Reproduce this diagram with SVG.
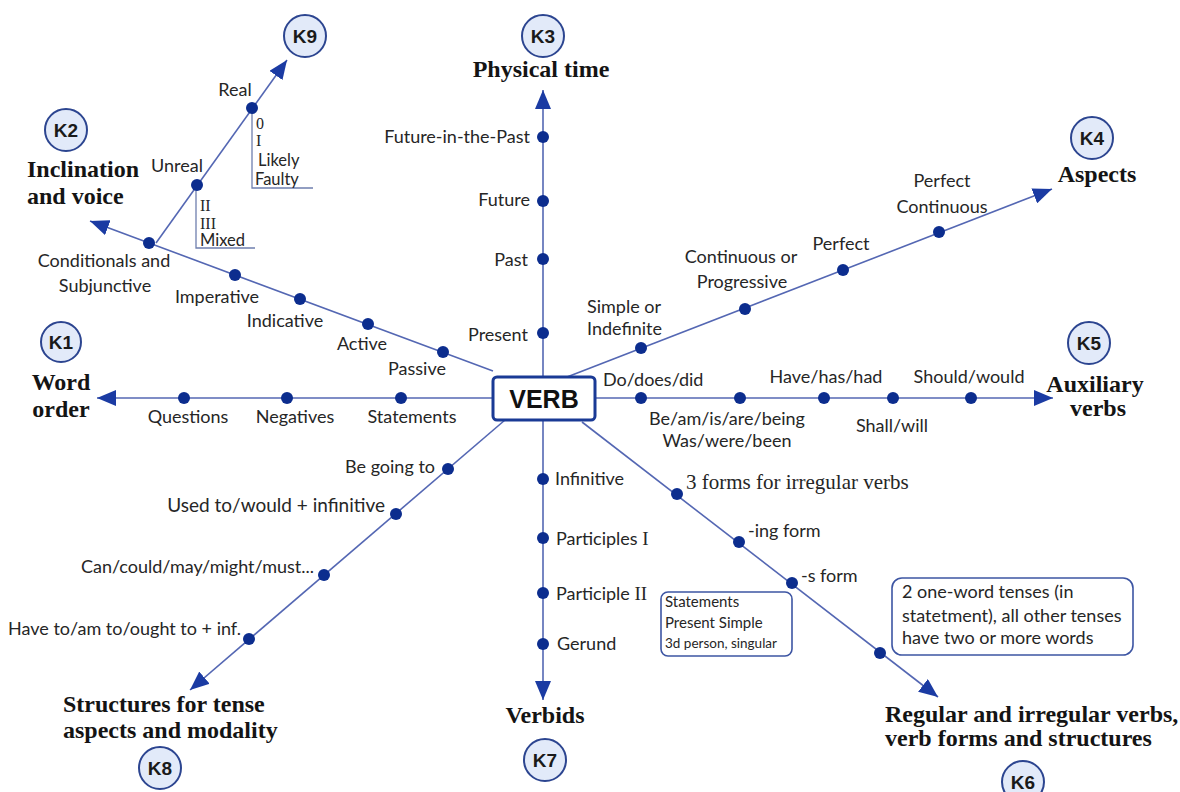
<svg xmlns="http://www.w3.org/2000/svg" width="1180" height="792" viewBox="0 0 1180 792">
<style>
.ln{stroke:#5467b3;stroke-width:1.6;fill:none}
.br{stroke:#6f7fae;stroke-width:1.3;fill:none}
.dot{fill:#0c2d8e}
.lbl{font-family:Lato,"Liberation Sans",sans-serif;font-size:18px;fill:#262626}
.ser{font-family:"Liberation Serif",serif;font-size:19px;fill:#262626}
.brs{font-family:"Liberation Serif",serif;font-size:16px;fill:#262626}
.brt{font-family:Lato,"Liberation Sans",sans-serif;font-size:16.5px;fill:#262626}
.n1{font-family:Lato,"Liberation Sans",sans-serif;font-size:15px;fill:#262626}
.n2{font-family:Lato,"Liberation Sans",sans-serif;font-size:13.5px;fill:#262626}
.ttl{font-family:"Liberation Serif",serif;font-weight:bold;font-size:24px;fill:#141414}
.kc{fill:#e2eaf9;stroke:#2c4590;stroke-width:2}
.kt{font-family:"Liberation Sans",sans-serif;font-weight:bold;font-size:19px;fill:#1a1a1a;text-anchor:middle}
.mid{text-anchor:middle}
.end{text-anchor:end}
.box{fill:#fff;stroke:#3d55a3;stroke-width:1.6}
</style>
<defs>
<marker id="ah" viewBox="0 0 10 10" refX="10" refY="5" markerWidth="19" markerHeight="16" markerUnits="userSpaceOnUse" orient="auto" preserveAspectRatio="none">
<path d="M0,0 L10,5 L0,10 z" fill="#1b3ba3"/>
</marker>
</defs>
<rect width="1180" height="792" fill="#fff"/>

<g id="connectors">
<line class="ln" x1="493" y1="398" x2="97" y2="398" marker-end="url(#ah)"/>
<line class="ln" x1="543" y1="377" x2="543" y2="90" marker-end="url(#ah)"/>
<line class="ln" x1="567" y1="377" x2="1052" y2="189" marker-end="url(#ah)"/>
<line class="ln" x1="595" y1="398" x2="1053" y2="398" marker-end="url(#ah)"/>
<line class="ln" x1="582" y1="422" x2="938" y2="697" marker-end="url(#ah)"/>
<line class="ln" x1="543" y1="420" x2="543" y2="700" marker-end="url(#ah)"/>
<line class="ln" x1="505" y1="420" x2="190" y2="690" marker-end="url(#ah)"/>
<line class="ln" x1="493" y1="371" x2="90" y2="221" marker-end="url(#ah)"/>
<line class="ln" x1="156" y1="243" x2="287" y2="60" marker-end="url(#ah)"/>
<polyline class="br" points="252,112 252,188 313,188"/>
<polyline class="br" points="196,190 196,248 255,248"/>
</g>

<g id="verb">
<rect x="493" y="377" width="102" height="43" rx="4" fill="#fff" stroke="#1a3a95" stroke-width="3"/>
<text x="544" y="408" font-family="'Liberation Sans',sans-serif" font-weight="bold" font-size="25" fill="#111" text-anchor="middle">VERB</text>
</g>

<g id="k1">
<circle class="kc" cx="61" cy="342" r="20"/><text class="kt" x="61" y="349">K1</text>
<text class="ttl mid" x="61" y="390">Word</text><text class="ttl mid" x="61" y="417">order</text>
</g>
<g id="k2">
<circle class="kc" cx="66" cy="130" r="21"/><text class="kt" x="66" y="137">K2</text>
<text class="ttl" x="27" y="177">Inclination</text><text class="ttl" x="27" y="204">and voice</text>
</g>
<g id="k3">
<circle class="kc" cx="543" cy="36" r="21"/><text class="kt" x="543" y="43">K3</text>
<text class="ttl mid" x="541" y="77">Physical time</text>
</g>
<g id="k4">
<circle class="kc" cx="1092" cy="138" r="21"/><text class="kt" x="1092" y="145">K4</text>
<text class="ttl mid" x="1097" y="182">Aspects</text>
</g>
<g id="k5">
<circle class="kc" cx="1089" cy="343" r="21"/><text class="kt" x="1089" y="350">K5</text>
<text class="ttl mid" x="1095" y="392">Auxiliary</text><text class="ttl mid" x="1098" y="416">verbs</text>
</g>
<g id="k6">
<circle class="kc" cx="1023" cy="782" r="21"/><text class="kt" x="1023" y="789">K6</text>
<text class="ttl" x="885" y="722">Regular and irregular verbs,</text>
<text class="ttl" x="885" y="746">verb forms and structures</text>
</g>
<g id="k7">
<circle class="kc" cx="545" cy="760" r="21"/><text class="kt" x="545" y="767">K7</text>
<text class="ttl mid" x="545" y="723">Verbids</text>
</g>
<g id="k8">
<circle class="kc" cx="160" cy="768" r="21"/><text class="kt" x="160" y="775">K8</text>
<text class="ttl" x="63" y="712">Structures for tense</text>
<text class="ttl" x="63" y="738">aspects and modality</text>
</g>
<g id="k9">
<circle class="kc" cx="305" cy="36" r="21"/><text class="kt" x="305" y="43">K9</text>
</g>

<g id="word-order-items">
<circle class="dot" cx="184" cy="398" r="6"/><text class="lbl mid" x="188" y="423">Questions</text>
<circle class="dot" cx="287" cy="398" r="6"/><text class="lbl mid" x="295" y="423">Negatives</text>
<circle class="dot" cx="401" cy="398" r="6"/><text class="lbl mid" x="412" y="423">Statements</text>
</g>

<g id="inclination-items">
<circle class="dot" cx="149" cy="243" r="6"/><text class="lbl mid" x="104" y="267">Conditionals and</text><text class="lbl mid" x="105" y="292">Subjunctive</text>
<circle class="dot" cx="235" cy="275" r="6"/><text class="lbl mid" x="217" y="303">Imperative</text>
<circle class="dot" cx="300" cy="299" r="6"/><text class="lbl mid" x="285" y="327">Indicative</text>
<circle class="dot" cx="368" cy="324" r="6"/><text class="lbl mid" x="362" y="350">Active</text>
<circle class="dot" cx="443" cy="352" r="6"/><text class="lbl mid" x="417" y="375">Passive</text>
</g>

<g id="conditionals-items">
<circle class="dot" cx="197" cy="185" r="6"/><text class="lbl mid" x="177" y="172">Unreal</text>
<circle class="dot" cx="252" cy="108" r="6"/><text class="lbl mid" x="235" y="96">Real</text>
<text class="brs" x="256" y="129">0</text>
<text class="brs" x="256" y="146">I</text>
<text class="brt" x="258" y="166">Likely</text>
<text class="brt" x="255" y="185">Faulty</text>
<text class="brs" x="200" y="211">II</text>
<text class="brs" x="200" y="229">III</text>
<text class="brt" x="200" y="246">Mixed</text>
</g>

<g id="time-items">
<circle class="dot" cx="543" cy="137" r="6"/><text class="lbl end" x="530" y="143">Future-in-the-Past</text>
<circle class="dot" cx="543" cy="201" r="6"/><text class="lbl end" x="530" y="206">Future</text>
<circle class="dot" cx="543" cy="259" r="6"/><text class="lbl end" x="528" y="266">Past</text>
<circle class="dot" cx="543" cy="333" r="6"/><text class="lbl end" x="528" y="341">Present</text>
</g>

<g id="aspect-items">
<circle class="dot" cx="641" cy="348" r="6"/><text class="lbl" x="587" y="313">Simple or</text><text class="lbl" x="587" y="335">Indefinite</text>
<circle class="dot" cx="745" cy="309" r="6"/><text class="lbl mid" x="741" y="263">Continuous or</text><text class="lbl mid" x="742" y="288">Progressive</text>
<circle class="dot" cx="843" cy="270" r="6"/><text class="lbl mid" x="841" y="250">Perfect</text>
<circle class="dot" cx="939" cy="232" r="6"/><text class="lbl mid" x="942" y="187">Perfect</text><text class="lbl mid" x="942" y="213">Continuous</text>
</g>

<g id="auxiliary-items">
<circle class="dot" cx="641" cy="398" r="6"/><text class="lbl" x="603" y="386">Do/does/did</text>
<circle class="dot" cx="740" cy="398" r="6"/><text class="lbl mid" x="727" y="425">Be/am/is/are/being</text><text class="lbl mid" x="727" y="447">Was/were/been</text>
<circle class="dot" cx="824" cy="398" r="6"/><text class="lbl mid" x="826" y="383">Have/has/had</text>
<circle class="dot" cx="893" cy="398" r="6"/><text class="lbl mid" x="892" y="432">Shall/will</text>
<circle class="dot" cx="971" cy="398" r="6"/><text class="lbl mid" x="969" y="383">Should/would</text>
</g>

<g id="forms-items">
<circle class="dot" cx="677" cy="494" r="6"/><text class="ser" x="686" y="489" style="font-size:21px">3 forms for irregular verbs</text>
<circle class="dot" cx="739" cy="542" r="6"/><text class="lbl" x="748" y="537">-ing form</text>
<circle class="dot" cx="792" cy="583" r="6"/><text class="lbl" x="801" y="582">-s form</text>
<circle class="dot" cx="880" cy="653" r="6"/>
</g>

<g id="note-present-simple">
<rect class="box" x="661" y="592" width="131" height="64" rx="7"/>
<text class="n1" x="665" y="607">Statements</text>
<text class="n1" x="665" y="628">Present Simple</text>
<text class="n2" x="665" y="648">3d person, singular</text>
</g>

<g id="note-tenses">
<rect class="box" x="892" y="578" width="241" height="77" rx="10"/>
<text class="lbl" x="902" y="598">2 one-word tenses (in</text>
<text class="lbl" x="902" y="622">statetment), all other tenses</text>
<text class="lbl" x="902" y="644">have two or more words</text>
</g>

<g id="verbid-items">
<circle class="dot" cx="543" cy="479" r="6"/><text class="lbl" x="555" y="485">Infinitive</text>
<circle class="dot" cx="543" cy="538" r="6"/><text class="lbl" x="556" y="545">Participles <tspan class="ser">I</tspan></text>
<circle class="dot" cx="543" cy="593" r="6"/><text class="lbl" x="556" y="600">Participle <tspan class="ser">II</tspan></text>
<circle class="dot" cx="543" cy="644" r="6"/><text class="lbl" x="557" y="650">Gerund</text>
</g>

<g id="structure-items">
<circle class="dot" cx="448" cy="469" r="6"/><text class="lbl end" x="435" y="473">Be going to</text>
<circle class="dot" cx="396" cy="514" r="6"/><text class="lbl end" x="385" y="512" style="font-size:19px">Used to/would + infinitive</text>
<circle class="dot" cx="324" cy="575" r="6"/><text class="lbl end" x="314" y="573">Can/could/may/might/must...</text>
<circle class="dot" cx="249" cy="639" r="6"/><text class="lbl end" x="241" y="635">Have to/am to/ought to + inf.</text>
</g>
</svg>
